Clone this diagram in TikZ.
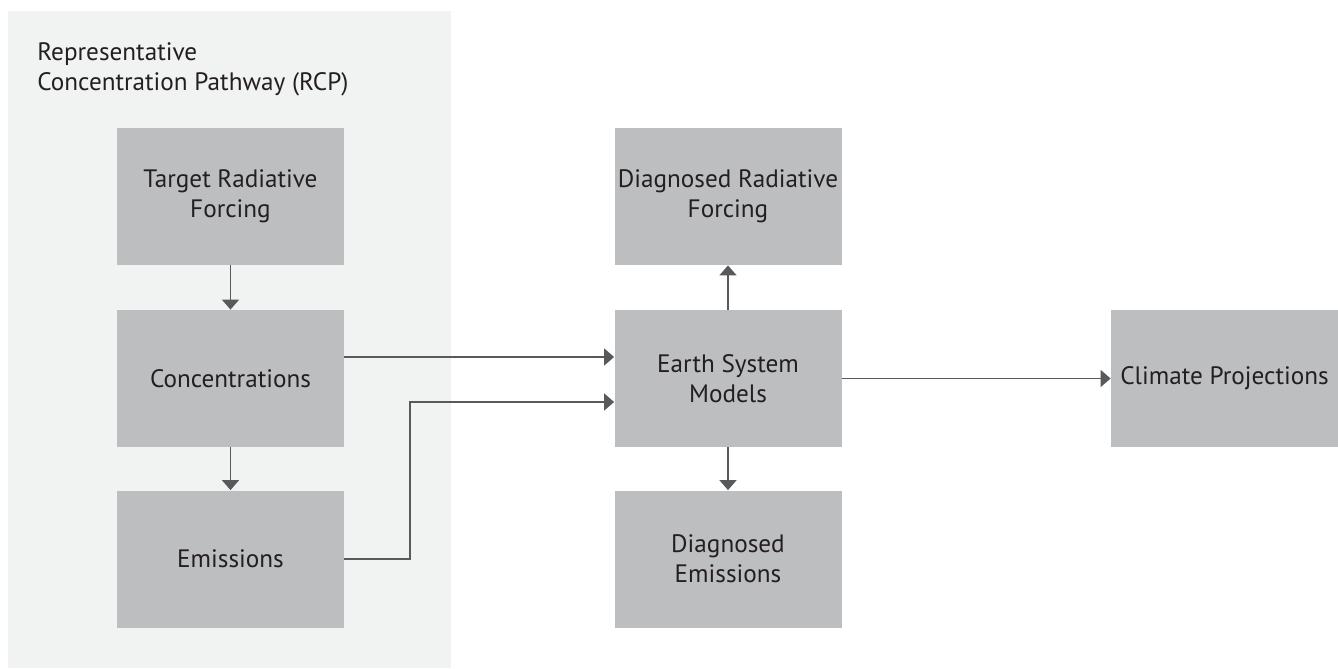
\documentclass[tikz,border=0pt]{standalone}
\usepackage{fontspec}
\setmainfont{PT Sans}
\usetikzlibrary{arrows.meta}
\definecolor{panelgray}{HTML}{F1F2F2}
\definecolor{boxgray}{HTML}{BCBEC0}
\definecolor{linkgray}{HTML}{58595B}
\definecolor{textdark}{HTML}{231F20}
\begin{document}
\begin{tikzpicture}[x=0.5pt,y=-0.5pt,
  box/.style={fill=boxgray, minimum width=113.5pt, minimum height=68.5pt, inner sep=0pt, align=center, text=textdark, font=\fontsize{12.6}{15}\selectfont},
  link/.style={-{Triangle[length=5pt,width=8.5pt]}, draw=linkgray, line width=0.8pt}]
\useasboundingbox (0,0) rectangle (1338,669);
\fill[panelgray] (8,11) rectangle (451,668);
\node[anchor=west, align=left, inner sep=0pt, text=textdark, font=\fontsize{12.6}{15}\selectfont] (rcp) at (37,69) {Representative\\Concentration Pathway (RCP)};
\node[box] (target) at (230.5,196.5) {Target Radiative\\Forcing};
\node[box] (conc) at (230.5,378.5) {Concentrations};
\node[box] (emis) at (230.5,559) {Emissions};
\node[box] (drf) at (728,196.5) {Diagnosed Radiative\\Forcing};
\node[box] (esm) at (728,378.5) {Earth System\\Models};
\node[box] (demis) at (728,559) {Diagnosed\\Emissions};
\node[box] (climate) at (1224.5,378.5) {Climate Projections};
\coordinate (bend) at (410,402);
\draw[link] (target) -- (conc);
\draw[link] (conc) -- (emis);
\draw[link] ([yshift=10.75pt]conc.east) -- ([yshift=10.75pt]esm.west);
\draw[link] (emis.east) -| (bend) -- (esm.west |- bend);
\draw[link] (esm) -- (drf);
\draw[link] (esm) -- (demis);
\draw[link] (esm) -- (climate);
\end{tikzpicture}
\end{document}
